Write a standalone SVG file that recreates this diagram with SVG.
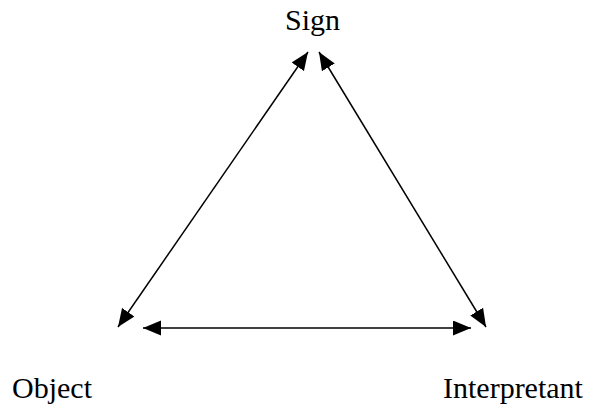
<svg xmlns="http://www.w3.org/2000/svg" width="595" height="409" viewBox="0 0 595 409">
<style>
text{font-family:"Liberation Serif","Times New Roman",serif;font-size:30px;fill:#000}
.c{stroke:#000;stroke-width:1.5;fill:none;marker-start:url(#a);marker-end:url(#a)}
</style>
<defs>
<marker id="a" markerUnits="userSpaceOnUse" markerWidth="20" markerHeight="16" refX="18" refY="7.5" orient="auto-start-reverse" viewBox="0 0 20 16">
<path d="M0,0 L18,7.5 L0,15 Z" fill="#000"/>
</marker>
</defs>
<rect width="595" height="409" fill="#fff"/>
<g id="sign"><text x="285" y="30">Sign</text></g>
<g id="object"><text x="12" y="398">Object</text></g>
<g id="interpretant"><text x="443" y="398">Interpretant</text></g>
<g id="connectors">
<line class="c" x1="308" y1="52" x2="118" y2="327"/>
<line class="c" x1="319" y1="52" x2="486" y2="327"/>
<line class="c" x1="143" y1="328" x2="471" y2="328"/>
</g>
</svg>
